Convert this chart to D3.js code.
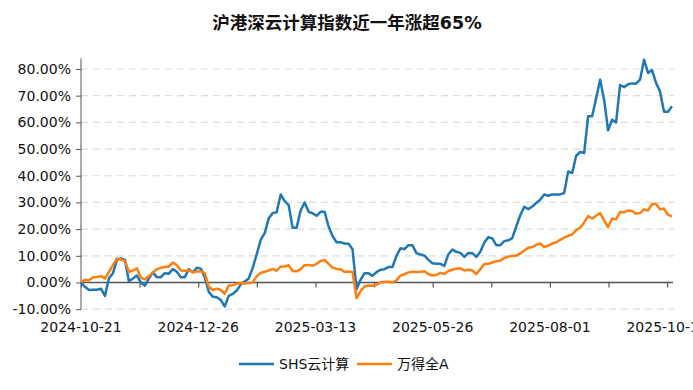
<!DOCTYPE html>
<html>
<head>
<meta charset="utf-8">
<script src="https://d3js.org/d3.v7.min.js"></script>
<style>
  body { margin: 0; background: #fff; }
  text { font-family: "DejaVu Sans", "Noto Sans CJK SC", sans-serif; }
</style>
</head>
<body>
<svg id="chart" width="693" height="390"></svg>
<script>
  // title + series names
  const title = "沪港深云计算指数近一年涨超65%";
  const seriesNames = ["SHS云计算", "万得全A"];
  const colors = ["#1f77b4", "#ff7f0e"];

  // x tick labels (every 48 trading days, a tick every 24)
  const dateLabels = ["2024-10-21", "2024-12-26", "2025-03-13", "2025-05-26", "2025-08-01", "2025-10-16"];
  const totalDays = 242;

  // cumulative return (%) sampled evenly over the year
  const shsCloud = [
    0, -1.6, -2.8, -2.7, -2.7, -2.3, -5.0, 1.6, 3.5, 8.5,
    9.0, 8.5, 0.5, 1.5, 2.6, 0, -1.2, 1.5, 3.8, 2.0,
    2.0, 3.5, 3.3, 5.0, 4.0, 2.0, 2.0, 5.0, 3.8, 5.5,
    5.2, 2.0, -3.5, -5.3, -5.5, -6.5, -9.0, -5.0, -4.3, -3.0,
    -0.8, 0.4, 1.5, 5.5, 10.5, 16.0, 18.5, 24, 26, 26.3,
    33, 30.5, 29, 20.5, 20.5, 27, 30, 26.5, 25.9, 25,
    26.5, 26.5, 21, 17.4, 15.1, 15.1, 14.6, 14.5, 12.5, -2.5,
    1.0, 3.5, 3.5, 2.5, 3.9, 4.8, 5.0, 5.8, 5.8, 10,
    12.8, 12.5, 14, 14, 11.0, 10.5, 10.1, 8.5, 7.2, 7.0,
    7.0, 6.2, 10.6, 12.3, 11.5, 11.1, 9.6, 11.1, 11, 9.6,
    11.5, 15, 17, 16.5, 14, 14, 15.5, 15.8, 16.6, 21,
    25.2, 28.4, 27.5, 28.5, 29.8, 31, 33, 32.5, 33, 33,
    33, 33.5, 41.6, 41, 47.5, 48.9, 48.5, 62.3, 62.3, 69,
    76, 68.5, 57, 61, 60, 74, 73.2, 74.3, 74.6, 74.5,
    76, 83.5, 78.5, 79.6, 74.8, 71.6, 64, 64, 66
  ];
  const windA = [
    0.2, 1.0, 0.8, 2.0, 2.1, 2.4, 1.5, 4.0, 6.5, 9.0,
    8.6, 8.1, 4.0, 4.5, 5.3, 1.8, 1.2, 2.3, 3.8, 5.0,
    5.5, 5.8, 6.0, 7.5, 6.5, 4.5, 4.4, 4.6, 3.8, 4.1,
    4.2, 3.5, -1.6, -2.8, -2.3, -2.8, -4.2, -1.1, -1.0, -0.5,
    -0.2, -0.4, -0.2, 0.0, 2.4, 3.6, 4.0, 4.5, 5.1, 4.4,
    6.0, 6.0, 6.5, 4.3, 4.2, 5.0, 6.5, 6.6, 6.3, 7.0,
    8.0, 8.5, 7.0, 5.6, 5.1, 5.0, 3.9, 4.1, 3.9, -5.8,
    -3.3, -1.5, -1.1, -1.2, -0.8, 0.0, 0.3, 0.3, 0.0, 0.8,
    2.6, 3.1, 3.8, 4.0, 3.9, 4.0, 4.2, 3.2, 2.6, 2.9,
    3.6, 3.2, 4.3, 4.8, 5.2, 5.3, 4.5, 4.8, 4.5, 3.2,
    5.0, 6.9, 7.0, 7.5, 8.0, 8.2, 9.2, 9.7, 9.9, 10.1,
    10.9, 12.0, 13.0, 13.3, 14.1, 14.6, 13.3, 13.8, 14.6, 15.1,
    16.0, 16.8, 17.5, 18.0, 19.6, 20.5, 22.5, 24.9, 24.0, 25.0,
    26.0, 23.3, 20.8, 24.0, 23.7, 26.4, 26.3, 27.0, 26.8, 25.8,
    26.0, 27.4, 27.0, 29.3, 29.5, 27.4, 27.7, 25.4, 24.8
  ];

  const yTicks = [-10, 0, 10, 20, 30, 40, 50, 60, 70, 80];

  const svg = d3.select("#chart");
  const plotL = 81, plotR = 672, plotT = 58.3, plotB = 309.2;

  const x = d3.scaleLinear().domain([0, totalDays]).range([plotL, plotR]);
  const y = d3.scaleLinear().domain([-10, 84]).range([plotB, plotT]);

  // title
  svg.append("text")
    .attr("x", 347).attr("y", 29)
    .attr("text-anchor", "middle")
    .attr("font-size", 17.5).attr("font-weight", "bold")
    .attr("fill", "#111")
    .text(title);

  // dashed grid
  svg.append("g").selectAll("line")
    .data(yTicks.filter(d => d !== 0))
    .join("line")
    .attr("x1", plotL).attr("x2", 674)
    .attr("y1", d => y(d)).attr("y2", d => y(d))
    .attr("stroke", "#dcdcdc").attr("stroke-width", 1.2)
    .attr("stroke-dasharray", "7,5");

  // y axis with minor ticks
  const yAxis = svg.append("g").attr("transform", `translate(${plotL},0)`);
  yAxis.call(d3.axisLeft(y).tickValues(d3.range(-10, 85, 2)).tickSize(3).tickFormat(""))
    .call(g => g.select(".domain").remove());
  yAxis.call(d3.axisLeft(y).tickValues(yTicks).tickSize(5).tickPadding(5)
      .tickFormat(d => d.toFixed(2) + "%"));
  yAxis.selectAll("line").attr("stroke", "#555");
  yAxis.selectAll(".domain").attr("stroke", "#555").attr("d", `M0,${plotT}V${plotB}`);
  yAxis.selectAll("text").attr("font-size", 14).attr("fill", "#111")
    .style("font-family", "'DejaVu Sans', sans-serif");

  // x axis sits on the zero line
  const xAxis = svg.append("g").attr("transform", `translate(0,${y(0)})`);
  xAxis.call(d3.axisBottom(x).tickValues(d3.range(0, totalDays + 1, 24)).tickSize(5).tickFormat(""));
  xAxis.select(".domain").attr("d", `M${plotL},0H${plotR + 1}`).attr("stroke", "#555").attr("stroke-width", 1.5);
  xAxis.selectAll("line").attr("stroke", "#555").attr("stroke-width", 1.2);

  // date labels under the plot (last one runs off the edge, as in the source)
  svg.append("g").selectAll("text")
    .data(dateLabels)
    .join("text")
    .attr("x", (d, i) => x(i * 48))
    .attr("y", 332)
    .attr("text-anchor", "middle")
    .attr("font-size", 14).attr("fill", "#111")
    .text(d => d);

  // lines
  const series = [shsCloud, windA];
  const line = d3.line()
    .x((d, i, arr) => x(i * totalDays / (arr.length - 1)))
    .y(d => y(d));
  svg.append("g").selectAll("path")
    .data(series)
    .join("path")
    .attr("fill", "none")
    .attr("stroke", (d, i) => colors[i])
    .attr("stroke-width", 2.5)
    .attr("stroke-linejoin", "round")
    .attr("d", d => line(d));

  // legend
  const legendX = [239, 357];
  const legend = svg.append("g").selectAll("g")
    .data(seriesNames)
    .join("g")
    .attr("transform", (d, i) => `translate(${legendX[i]},364)`);
  legend.append("line")
    .attr("x1", 0).attr("x2", 35)
    .attr("stroke", (d, i) => colors[i]).attr("stroke-width", 2.5);
  legend.append("text")
    .attr("x", 40).attr("y", 5)
    .attr("font-size", 14).attr("fill", "#111")
    .text(d => d);
</script>
</body>
</html>
